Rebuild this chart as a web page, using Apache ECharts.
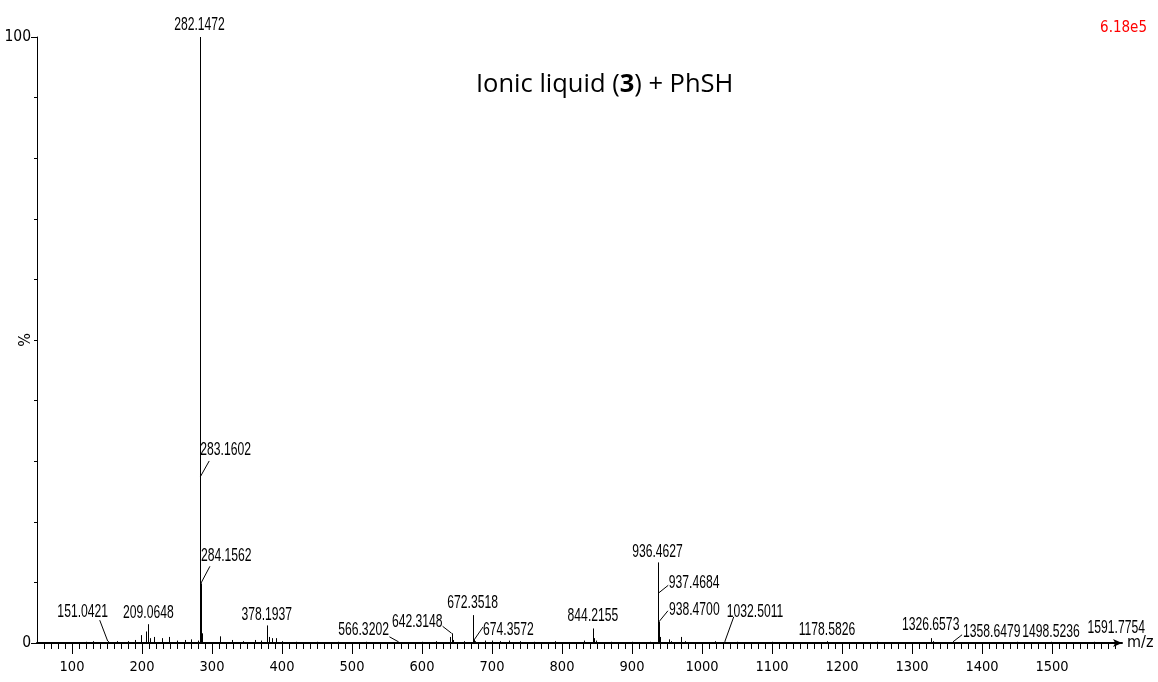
<!DOCTYPE html>
<html><head><meta charset="utf-8">
<script src="https://cdn.jsdelivr.net/npm/echarts@6/dist/echarts.min.js"></script>
<style>html,body{margin:0;padding:0;background:#fff}#c{width:1158px;height:682px}</style>
</head><body><div id="c"></div>
<script>
// ---- data ----
const labeledMz  = [151.0421, 209.0648, 282.1472, 283.1602, 284.1562, 378.1937, 566.3202, 642.3148, 672.3518, 674.3572, 844.2155, 936.4627, 937.4684, 938.4700, 1032.5011, 1178.5826, 1326.6573, 1358.6479, 1498.5236, 1591.7754];
const labeledPct = [0.3, 3.1, 100, 27.4, 9.85, 2.9, 0.2, 1.6, 4.6, 0.5, 2.4, 13.3, 8.2, 3.5, 0.2, 0.3, 0.8, 0.2, 0.2, 0.3];
const labelText  = ['151.0421','209.0648','282.1472','283.1602','284.1562','378.1937','566.3202','642.3148','672.3518','674.3572','844.2155','936.4627','937.4684','938.4700','1032.5011','1178.5826','1326.6573','1358.6479','1498.5236','1591.7754'];

const minorMz  = [120,130,165,180,190,199,206,212,217,229,238,250,261,270,280,285.2,286.2,311,329,345,361,370,381,385,391,400,420,450,480,520,600,620,640.3,644,660,676.4,690,700,712,725,740,760,790,831,846,848,870,900,925,940,952.9,955,970.6,975,1018,1050,1100,1250,1330,1450,1560];
const minorPct = [0.2,0.3,0.3,0.3,0.5,1.3,1.9,0.8,1.0,0.8,1.0,0.4,0.5,0.6,0.4,1.6,0.5,1.1,0.5,0.3,0.5,0.4,1.0,0.8,0.8,0.3,0.2,0.2,0.2,0.2,0.2,0.3,1.0,0.5,0.3,0.3,0.4,0.4,0.3,0.4,0.3,0.2,0.3,0.4,0.8,0.4,0.2,0.2,0.2,1.0,0.6,0.3,1.0,0.3,0.3,0.2,0.2,0.2,0.3,0.2,0.2];

const xTickLabels = [100,200,300,400,500,600,700,800,900,1000,1100,1200,1300,1400,1500];
const yTickLabels = [0,100];
const yMinorTicks = [0,10,20,30,40,50,60,70,80,90,100];

// ---- label layout (pixel offsets from peak top; layout only) ----
const labelLayout = [
  {lx:-8, ly:-21, tx:-25, ty:-29.5, align:'center'},
  {tx:0, ty:-11, align:'center'},
  {tx:0, ty:-12, align:'center'},
  {lx:9, ly:-16, tx:0, ty:-27.6, align:'left'},
  {lx:9, ly:-17, tx:0, ty:-28, align:'left'},
  {tx:0, ty:-11, align:'center'},
  {lx:-9, ly:-5, tx:-9.5, ty:-12, align:'right'},
  {lx:-9, ly:-7, tx:-9, ty:-11.6, align:'right'},
  {tx:0, ty:-12, align:'center'},
  {lx:9, ly:-13, tx:9, ty:-10, align:'left'},
  {tx:0, ty:-13, align:'center'},
  {tx:0, ty:-11, align:'center'},
  {lx:10, ly:-8, tx:10.5, ty:-11, align:'left'},
  {lx:9, ly:-11, tx:10, ty:-12, align:'left'},
  {lx:9, ly:-25, tx:2, ty:-30, align:'left'},
  {tx:0, ty:-11, align:'center'},
  {tx:0, ty:-13, align:'center'},
  {lx:9, ly:-7, tx:10, ty:-10, align:'left'},
  {tx:0, ty:-10, align:'center'},
  {tx:0, ty:-13, align:'center'}
];

const NARROW = '"Liberation Sans Narrow","Arial Narrow","DejaVu Sans Condensed","Liberation Sans",sans-serif';
const SANS = '"Liberation Sans",Arial,sans-serif';

const xMinorTicks = [];
for (let v = 60; v < 1600; v += 10) xMinorTicks.push(v);

const stickData = [];
minorMz.forEach((m, i) => stickData.push([m, minorPct[i]]));
labeledMz.forEach((m, i) => stickData.push([m, labeledPct[i]]));

const annData = labeledMz.map((m, i) => [m, labeledPct[i], i]);

const chart = echarts.init(document.getElementById('c'), null, {renderer: 'canvas'});

const option = {
  animation: false,
  backgroundColor: '#fff',
  title: [
    {
      text: '{a|Ionic liquid (}{b|3}{a|) + PhSH}',
      left: 471, top: 67,
      textStyle: {
        fontWeight: 'normal',
        rich: {
          a: {fontFamily: '"Open Sans","Noto Sans",sans-serif', fontSize: 25.5, fontWeight: 'normal', color: '#000'},
          b: {fontFamily: '"Open Sans","Noto Sans",sans-serif', fontSize: 25.5, fontWeight: 'bold', color: '#000'}
        }
      }
    },
    {
      text: '6.18e5', right: 6, top: 16,
      textStyle: {color: '#ff0000', fontFamily: NARROW, fontSize: 15, fontWeight: 'normal'}
    }
  ],
  grid: {left: 37, right: 36, top: 37, bottom: 39},
  xAxis: [
    {
      type: 'value', min: 50, max: 1600, position: 'bottom',
      axisLine: {show: true, lineStyle: {color: '#000', width: 2}, symbol: ['none', 'arrow'], symbolSize: [6, 9]},
      axisTick: {show: true, length: 6, customValues: xMinorTicks, lineStyle: {color: '#000', width: 1}},
      axisLabel: {show: false},
      splitLine: {show: false},
      name: 'm/z', nameLocation: 'end', nameGap: 5,
      nameTextStyle: {fontFamily: NARROW, fontSize: 16, color: '#000', verticalAlign: 'middle', padding: [6, 0, 0, 0]}
    },
    {
      type: 'value', min: 50, max: 1600, position: 'bottom',
      axisLine: {show: false},
      axisTick: {show: true, length: 11, customValues: xTickLabels, lineStyle: {color: '#000', width: 1}},
      axisLabel: {show: true, customValues: xTickLabels, margin: 17, fontFamily: NARROW, fontSize: 14.5, color: '#000',
                  formatter: function (v) { return String(v); }},
      splitLine: {show: false}
    }
  ],
  yAxis: [
    {
      type: 'value', min: 0, max: 100, position: 'left',
      axisLine: {show: true, lineStyle: {color: '#000', width: 1}},
      axisTick: {show: true, length: 3, customValues: yMinorTicks, lineStyle: {color: '#000'}},
      axisLabel: {show: false},
      splitLine: {show: false},
      name: '%', nameLocation: 'middle', nameRotate: 90, nameGap: 3,
      nameTextStyle: {fontFamily: NARROW, fontSize: 16, color: '#000'}
    },
    {
      type: 'value', min: 0, max: 100, position: 'left',
      axisLine: {show: false},
      axisTick: {show: true, length: 6, customValues: yTickLabels, lineStyle: {color: '#000'}},
      axisLabel: {show: true, customValues: yTickLabels, margin: 6, fontFamily: NARROW, fontSize: 15.5, color: '#000',
                  formatter: function (v) { return String(v); }},
      splitLine: {show: false}
    }
  ],
  series: [
    {
      type: 'custom', xAxisIndex: 0, yAxisIndex: 0, silent: true,
      data: stickData,
      renderItem: function (params, api) {
        const top = api.coord([api.value(0), api.value(1)]);
        const base = api.coord([api.value(0), 0]);
        const x = Math.round(top[0]) + 0.5;
        return {type: 'line', shape: {x1: x, y1: top[1], x2: x, y2: base[1]}, style: {stroke: '#000', lineWidth: 1}};
      }
    },
    {
      type: 'custom', xAxisIndex: 0, yAxisIndex: 0, silent: true,
      data: annData,
      renderItem: function (params, api) {
        const i = api.value(2);
        const p = api.coord([api.value(0), api.value(1)]);
        const L = labelLayout[i];
        const children = [];
        if (L.lx !== undefined) {
          children.push({type: 'line', shape: {x1: p[0], y1: p[1], x2: p[0] + L.lx, y2: p[1] + L.ly}, style: {stroke: '#000', lineWidth: 1}});
        }
        children.push({
          type: 'text', x: p[0] + L.tx, y: p[1] + L.ty, scaleX: 0.64, scaleY: 1,
          style: {text: labelText[i], x: 0, y: 0, align: L.align, verticalAlign: 'middle', fill: '#000', fontFamily: SANS, fontSize: 19}
        });
        return {type: 'group', children: children};
      }
    }
  ]
};
chart.setOption(option);
</script>
</body></html>
